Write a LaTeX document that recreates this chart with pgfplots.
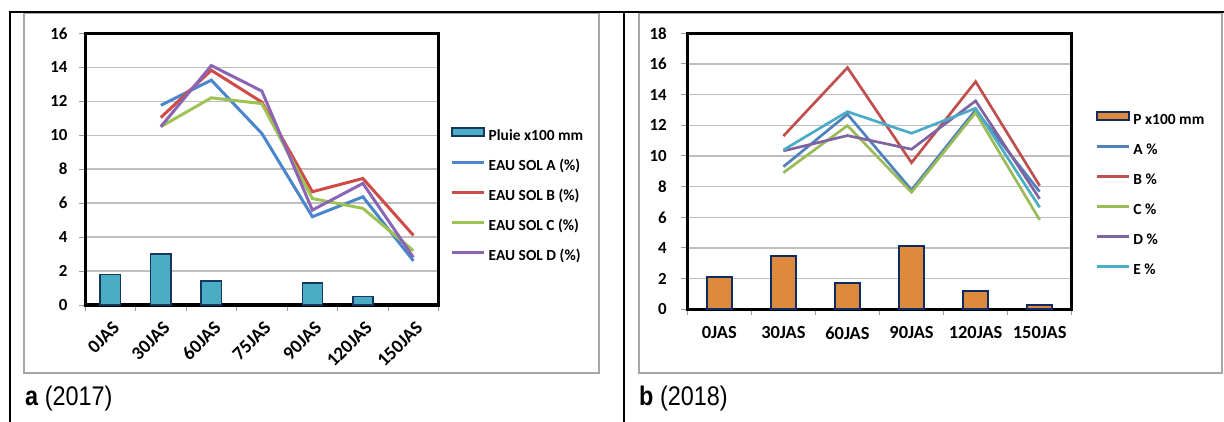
\documentclass[border=0pt]{standalone}
\usepackage{fontspec}
\setmainfont{Carlito}
\newfontfamily\capfont[FakeStretch=0.87]{Liberation Sans}
\usepackage{pgfplots}
\pgfplotsset{compat=1.18}

% 2017 colours
\definecolor{pluie}{HTML}{4BACC6}
\definecolor{edgeA}{HTML}{17375E}
\definecolor{solA}{HTML}{4A86CB}
\definecolor{solB}{HTML}{CF4B47}
\definecolor{solC}{HTML}{9DC353}
\definecolor{solD}{HTML}{8B64B3}
% 2018 colours
\definecolor{pbar}{HTML}{DD8A3E}
\definecolor{edgeB}{HTML}{0F2B61}
\definecolor{cA}{HTML}{4F81BD}
\definecolor{cB}{HTML}{C0504D}
\definecolor{cC}{HTML}{9BBB59}
\definecolor{cD}{HTML}{8064A2}
\definecolor{cE}{HTML}{4BACC6}

\pgfplotsset{
  panel/.style={
    scale only axis,
    anchor=south west,
    clip=false,
    axis line style={line width=3bp, black},
    ymin=0,
    ymajorgrids,
    grid style={gray!50, line width=1.3bp},
    tick align=outside,
    xtick pos=left, ytick pos=left,
    major tick length=6bp, minor tick length=6bp,
    tick style={gray!80, line width=1bp},
    major x tick style={draw=none},
    /pgf/number format/assume math mode=true,
    tick label style={font=\bfseries\fontsize{17}{17}\selectfont, black},
    legend cell align=left,
    legend style={draw=none, fill=none, inner sep=0pt, outer sep=0pt,
      anchor=north west, row sep=15bp,
      font=\bfseries\fontsize{15.5}{15.5}\selectfont,
      nodes={inner sep=0pt, text height=11bp, text depth=4bp},
      /tikz/every odd column/.append style={column sep=3bp}},
  },
  swatchbar/.style={legend image code/.code={%
    \draw[##1,/tikz/.cd] (0bp,1bp) rectangle (32bp,9bp);}},
  swatchline/.style={legend image code/.code={%
    \draw[##1,/tikz/.cd] (0bp,5bp) -- (32bp,5bp);}},
}

\begin{document}
\begin{tikzpicture}
\useasboundingbox (0,0) rectangle (1224bp,422bp);

% frames
\draw[gray!70, line width=1.2bp] (24bp,409bp) rectangle (599bp,49bp);
\draw[gray!70, line width=1.2bp] (639bp,409bp) rectangle (1222bp,49bp);
\draw[black, line width=2.3bp] (9bp,410bp) -- (1224bp,410bp);
\draw[black, line width=2bp] (10bp,410bp) -- (10bp,0bp);
\draw[black, line width=2.5bp] (624bp,410bp) -- (624bp,0bp);

% a (2017)
\begin{axis}[panel, at={(85bp,117bp)}, width=353.7bp, height=271.7bp,
  xmin=-0.5, xmax=6.5, ymax=16, ytick={0,2,...,16},
  xtick={0,...,6},
  xticklabels={0JAS,30JAS,60JAS,75JAS,90JAS,120JAS,150JAS},
  minor xtick={-0.5,0.5,...,6.5},
  yticklabel style={xshift=-8bp},
  xticklabel style={rotate=45, anchor=north east, yshift=-4bp, xshift=-2bp,
    font=\bfseries\fontsize{19}{19}\selectfont},
  legend style={at={(1.034,0.654)}}]
\addplot[ybar, bar width=0.4, fill=pluie, draw=edgeA, line width=1.5bp, swatchbar]
  coordinates {(0,1.8) (1,3.0) (2,1.4) (4,1.3) (5,0.5)};
\addlegendentry{Pluie x100 mm}
\addplot[solA, line width=3bp, swatchline]
  coordinates {(1,11.76) (2,13.24) (3,10.1) (4,5.2) (5,6.37) (6,2.6)};
\addlegendentry{EAU SOL A (\%)}
\addplot[solB, line width=3bp, swatchline]
  coordinates {(1,11.04) (2,13.82) (3,11.95) (4,6.67) (5,7.45) (6,4.1)};
\addlegendentry{EAU SOL B (\%)}
\addplot[solC, line width=3bp, swatchline]
  coordinates {(1,10.5) (2,12.2) (3,11.86) (4,6.27) (5,5.69) (6,3.2)};
\addlegendentry{EAU SOL C (\%)}
\addplot[solD, line width=3bp, swatchline]
  coordinates {(1,10.5) (2,14.1) (3,12.6) (4,5.59) (5,7.16) (6,2.8)};
\addlegendentry{EAU SOL D (\%)}
\end{axis}

% b (2018)
\begin{axis}[panel, at={(687.3bp,112.7bp)}, width=384.4bp, height=276bp,
  xmin=-0.5, xmax=5.5, ymax=18, ytick={0,2,...,18},
  xtick={0,...,5},
  xticklabels={0JAS,30JAS,60JAS,90JAS,120JAS,150JAS},
  minor xtick={-0.5,0.5,...,5.5},
  yticklabel style={xshift=-11bp},
  xticklabel style={yshift=-8bp, font=\bfseries\fontsize{18.5}{18.5}\selectfont},
  legend style={at={(1.0625,0.717)}}]
\addplot[ybar, bar width=0.4, fill=pbar, draw=edgeB, line width=2bp, swatchbar]
  coordinates {(0,2.1) (1,3.5) (2,1.7) (3,4.1) (4,1.2) (5,0.3)};
\addlegendentry{P x100 mm}
\addplot[cA, line width=2.7bp, swatchline]
  coordinates {(1,9.3) (2,12.72) (3,7.78) (4,13.0) (5,7.67)};
\addlegendentry{A \%}
\addplot[cB, line width=2.7bp, swatchline]
  coordinates {(1,11.3) (2,15.76) (3,9.56) (4,14.85) (5,8.06)};
\addlegendentry{B \%}
\addplot[cC, line width=2.7bp, swatchline]
  coordinates {(1,8.91) (2,11.98) (3,7.63) (4,12.83) (5,5.83)};
\addlegendentry{C \%}
\addplot[cD, line width=2.7bp, swatchline]
  coordinates {(1,10.33) (2,11.33) (3,10.44) (4,13.59) (5,7.2)};
\addlegendentry{D \%}
\addplot[cE, line width=2.7bp, swatchline]
  coordinates {(1,10.39) (2,12.89) (3,11.48) (4,13.11) (5,6.65)};
\addlegendentry{E \%}
\end{axis}

\node[anchor=base west, inner sep=0pt] at (25bp,17bp)
  {\capfont\fontsize{27}{27}\selectfont\textbf{a} (2017)};
\node[anchor=base west, inner sep=0pt] at (639bp,16.5bp)
  {\capfont\fontsize{27}{27}\selectfont\textbf{b} (2018)};
\end{tikzpicture}
\end{document}
